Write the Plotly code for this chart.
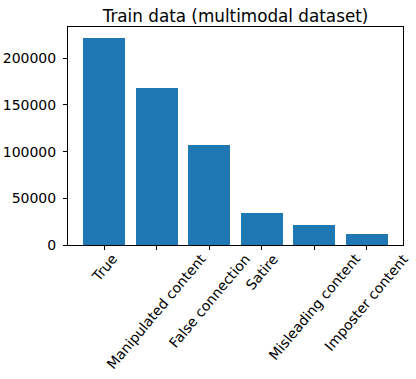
import plotly.graph_objects as go

categories = ["True", "Manipulated content", "False connection", "Satire",
              "Misleading content", "Imposter content"]
counts = [222081, 167900, 107100, 34300, 21400, 11700]
y_ticks = [0, 50000, 100000, 150000, 200000]
title = "Train data (multimodal dataset)"

FONT = "DejaVu Sans"
fig = go.Figure(go.Bar(x=categories, y=counts, width=0.8,
                       marker=dict(color="#1f77b4", line=dict(width=0))))

annotations = []
for c in categories:
    annotations.append(dict(x=c, xref="x", y=0, yref="paper", text=c,
                            showarrow=False, textangle=-50, xanchor="center",
                            yanchor="top", yshift=-3,
                            font=dict(family=FONT, size=14, color="black")))

fig.update_layout(
    width=416, height=379,
    margin=dict(l=68, r=13, t=27, b=134, pad=0, autoexpand=False),
    paper_bgcolor="white", plot_bgcolor="white",
    font=dict(family=FONT, size=14, color="black"),
    title=dict(text=title, x=0.5, xref="paper", xanchor="center",
               y=1, yref="paper", yanchor="bottom", pad=dict(b=5),
               font=dict(family=FONT, size=16.8, color="black")),
    showlegend=False,
    annotations=annotations,
    bargap=0,
)
fig.update_xaxes(type="category", range=[-0.69, 5.69], showline=True, mirror=True,
                 linecolor="black", linewidth=1, ticks="outside", ticklen=4,
                 tickwidth=1, tickcolor="black", showticklabels=False,
                 showgrid=False, zeroline=False, automargin=False)
fig.update_yaxes(range=[0, 233500], showline=True, mirror=True, linecolor="black",
                 linewidth=1, ticks="outside", ticklen=4, tickwidth=1,
                 tickcolor="black", tickvals=y_ticks,
                 ticktext=[str(v) for v in y_ticks], showgrid=False,
                 zeroline=False, ticklabelstandoff=4, automargin=False,
                 tickfont=dict(family=FONT, size=14, color="black"))

fig.write_html("out.html", config={"displayModeBar": False},
               post_script="document.body.style.margin='0';document.body.style.overflow='hidden';")
